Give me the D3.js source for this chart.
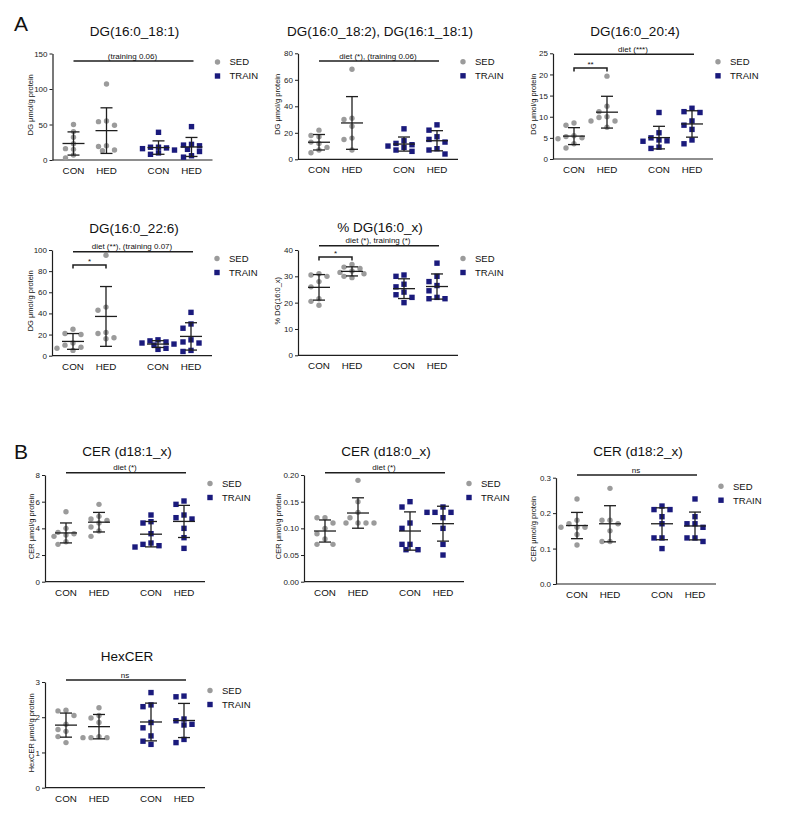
<!DOCTYPE html>
<html>
<head>
<meta charset="utf-8">
<script src="https://cdn.jsdelivr.net/npm/d3@7"></script>
<style>
  html, body { margin: 0; padding: 0; background: #fff; }
  svg { display: block; font-family: "Liberation Sans", Arial, sans-serif; }
</style>
</head>
<body>
<svg id="chart" width="787" height="828"></svg>
<script>
// ---------------- DATA ----------------
const categories = ["CON", "HED", "CON", "HED"];
const seriesNames = ["SED", "TRAIN"];

const titles = ["DG(16:0_18:1)", "DG(16:0_18:2), DG(16:1_18:1)", "DG(16:0_20:4)",
  "DG(16:0_22:6)", "% DG(16:0_x)", "CER (d18:1_x)", "CER (d18:0_x)", "CER (d18:2_x)", "HexCER"];
const yLabels = ["DG μmol/g protein", "DG μmol/g protein", "DG μmol/g protein",
  "DG μmol/g protein", "% DG(16:0_x)", "CER μmol/g protein", "CER μmol/g protein",
  "CER μmol/g protein", "HexCER μmol/g protein"];
const sigTexts = ["(training 0.06)", "diet (*), (training 0.06)", "diet (***)",
  "diet (**), (training 0.07)", "diet (*), training (*)", "diet (*)", "diet (*)", "ns", "ns"];
const bracketTexts = [null, null, "**", "*", "*", null, null, null, null];

// [CON, HED] per series
const dg181_SED   = [[50, 40, 32, 23, 16, 15, 7, 3], [107, 55, 54, 49, 20, 19, 13, 14]];
const dg181_TRAIN = [[39, 18, 18, 17, 16, 14, 10, 8], [47, 22, 21, 20, 15, 12, 6, 4]];
const dg182_SED   = [[22, 18, 17, 13, 12, 9, 7, 5], [68, 31, 30, 25, 16, 15, 7]];
const dg182_TRAIN = [[23, 14, 12, 11, 10, 9, 7, 6], [26, 22, 17, 15, 13, 8, 7, 4]];
const dg204_SED   = [[8.5, 8.0, 5.5, 5.3, 5.0, 4.8, 3.6, 2.6], [19.6, 12.5, 11.2, 10.0, 9.8, 9.0, 9.0, 7.5]];
const dg204_TRAIN = [[11.0, 6.2, 5.0, 4.5, 4.3, 4.2, 2.8, 2.5], [12.0, 11.2, 11.0, 9.0, 8.0, 7.0, 4.5, 3.6]];
const dg226_SED   = [[25, 21, 20, 12, 10, 8, 7, 5], [95, 46, 43, 22, 21, 17, 16]];
const dg226_TRAIN = [[15, 14, 13, 12, 11, 10, 7, 6], [41, 30, 26, 15, 13, 12, 5, 4]];
const pdg_SED     = [[31, 30.5, 30, 28, 26, 21.5, 20.5, 19], [34.5, 33.5, 33, 32, 31.5, 31, 30, 29.5]];
const pdg_TRAIN   = [[30.5, 30, 27, 26, 24, 23, 22, 20], [35, 30, 28, 26.5, 24.5, 22, 21.5, 21.5]];
const cer181_SED  = [[5.25, 4.0, 3.7, 3.6, 3.5, 3.4, 3.0, 2.8], [5.8, 4.9, 4.7, 4.6, 4.4, 4.1, 3.8, 3.4]];
const cer181_TRAIN= [[5.0, 4.5, 4.4, 3.6, 2.9, 2.8, 2.7, 2.6], [6.05, 5.8, 5.0, 4.8, 4.7, 4.0, 3.3, 2.5]];
const cer180_SED  = [[0.12, 0.12, 0.11, 0.10, 0.09, 0.08, 0.07, 0.07], [0.19, 0.15, 0.13, 0.12, 0.11, 0.11, 0.11, 0.11]];
const cer180_TRAIN= [[0.15, 0.14, 0.11, 0.10, 0.07, 0.07, 0.06, 0.06], [0.14, 0.13, 0.13, 0.13, 0.12, 0.10, 0.07, 0.05]];
const cer182_SED  = [[0.24, 0.18, 0.17, 0.16, 0.16, 0.16, 0.14, 0.11], [0.27, 0.18, 0.18, 0.17, 0.15, 0.12, 0.12]];
const cer182_TRAIN= [[0.22, 0.21, 0.21, 0.19, 0.17, 0.13, 0.13, 0.10], [0.24, 0.19, 0.17, 0.17, 0.16, 0.13, 0.13, 0.12]];
const hex_SED     = [[2.2, 2.18, 2.05, 1.8, 1.65, 1.6, 1.45, 1.28], [2.27, 2.05, 1.98, 1.85, 1.45, 1.42, 1.42, 1.42]];
const hex_TRAIN   = [[2.7, 2.35, 2.3, 1.85, 1.7, 1.47, 1.32, 1.23], [2.6, 2.58, 1.95, 1.9, 1.8, 1.78, 1.37, 1.28]];

const ticks1 = [0, 50, 100, 150];
const ticks2 = [0, 20, 40, 60, 80];
const ticks3 = [0, 5, 10, 15, 20, 25];
const ticks4 = [0, 20, 40, 60, 80, 100];
const ticks5 = [0, 10, 20, 30, 40];
const ticks6 = [0, 2, 4, 6, 8];
const ticks7 = [0, 0.05, 0.10, 0.15, 0.20];
const ticks8 = [0, 0.1, 0.2, 0.3];
const ticks9 = [0, 1, 2, 3];

// ---------------- LAYOUT ----------------
const panels = [
  {sed: dg181_SED, train: dg181_TRAIN, ticks: ticks1, fmt: d3.format("d"),   ax: 52.5, top: 53.5, bottom: 160,   titleY: 36,  labOff: 20, sigY: 61,    brY: null},
  {sed: dg182_SED, train: dg182_TRAIN, ticks: ticks2, fmt: d3.format("d"),   ax: 298,  top: 53.3, bottom: 159.3, titleY: 36,  labOff: 18, sigY: 61,    brY: null},
  {sed: dg204_SED, train: dg204_TRAIN, ticks: ticks3, fmt: d3.format("d"),   ax: 553,  top: 53.3, bottom: 159,   titleY: 36,  labOff: 17, sigY: 54.3,  brY: 68},
  {sed: dg226_SED, train: dg226_TRAIN, ticks: ticks4, fmt: d3.format("d"),   ax: 52,   top: 250,  bottom: 355.7, titleY: 233, labOff: 19, sigY: 251.7, brY: 265},
  {sed: pdg_SED,   train: pdg_TRAIN,   ticks: ticks5, fmt: d3.format("d"),   ax: 298,  top: 250,  bottom: 355.3, titleY: 232, labOff: 18, sigY: 245.7, brY: 257},
  {sed: cer181_SED,train: cer181_TRAIN,ticks: ticks6, fmt: d3.format("d"),   ax: 45,   top: 475,  bottom: 581.7, titleY: 456, labOff: 11, sigY: 472.7, brY: null},
  {sed: cer180_SED,train: cer180_TRAIN,ticks: ticks7, fmt: d3.format(".2f"), ax: 304,  top: 475,  bottom: 581.7, titleY: 456, labOff: 23, sigY: 472.7, brY: null},
  {sed: cer182_SED,train: cer182_TRAIN,ticks: ticks8, fmt: d3.format(".1f"), ax: 556,  top: 477.7,bottom: 584,   titleY: 456, labOff: 20, sigY: 475,   brY: null},
  {sed: hex_SED,   train: hex_TRAIN,   ticks: ticks9, fmt: d3.format("d"),   ax: 45,   top: 682,  bottom: 787.7, titleY: 661, labOff: 11, sigY: 680,   brY: null}
];

const catOffsets = [21, 54, 106, 139];
const GREY = "#9b9b9b", NAVY = "#1a1a7c", INK = "#1e1e1e";

const svg = d3.select("#chart");

svg.append("text").attr("x", 14).attr("y", 31).attr("font-size", 21).attr("fill", "#111").text("A");
svg.append("text").attr("x", 14).attr("y", 459).attr("font-size", 21).attr("fill", "#111").text("B");

function swarm(vals, y) {
  const pts = vals.map(v => ({v, py: y(v)})).sort((a, b) => a.py - b.py);
  const placed = [];
  const cands = [0, -8, 8, -4, 4, -12, 12, -16, 16];
  pts.forEach(p => {
    p.dx = 0;
    for (const c of cands) {
      if (placed.every(q => Math.hypot(q.dx - c, q.py - p.py) >= 5.6)) { p.dx = c; break; }
    }
    placed.push(p);
  });
  return pts;
}

panels.forEach((p, i) => {
  const g = svg.append("g");
  const yMax = p.ticks[p.ticks.length - 1];
  const y = d3.scaleLinear().domain([0, yMax]).range([p.bottom, p.top]);
  const cx = catOffsets.map(o => p.ax + o);

  // title
  g.append("text").attr("x", p.ax + 82).attr("y", p.titleY).attr("text-anchor", "middle")
    .attr("font-size", 13.5).attr("fill", "#111").text(titles[i]);

  // y axis
  const yAxis = d3.axisLeft(y).tickValues(p.ticks).tickFormat(p.fmt).tickSize(3).tickSizeOuter(0).tickPadding(2);
  const ya = g.append("g").attr("transform", `translate(${p.ax},0)`).call(yAxis);
  ya.select(".domain").attr("stroke", INK).attr("stroke-width", 1.2);
  ya.selectAll(".tick line").attr("stroke", INK).attr("stroke-width", 1);
  ya.selectAll(".tick text").attr("font-size", 8).attr("fill", "#222")
    .attr("font-family", "'Liberation Sans', Arial, sans-serif");

  // x axis baseline
  g.append("line").attr("x1", p.ax).attr("x2", p.ax + 160).attr("y1", p.bottom).attr("y2", p.bottom)
    .attr("stroke", INK).attr("stroke-width", 1.2);
  categories.forEach((c, k) => {
    g.append("text").attr("x", cx[k]).attr("y", p.bottom + 14).attr("text-anchor", "middle")
      .attr("font-size", 9.8).attr("fill", "#111").text(c);
  });

  // y label
  g.append("text")
    .attr("transform", `translate(${p.ax - p.labOff},${(p.top + p.bottom) / 2 - 2}) rotate(-90)`)
    .attr("text-anchor", "middle").attr("font-size", 7.5).attr("fill", "#111").text(yLabels[i]);

  // data groups
  const groups = [p.sed[0], p.sed[1], p.train[0], p.train[1]];
  groups.forEach((vals, k) => {
    const isSed = k < 2;
    const pts = swarm(vals, y);
    if (isSed) {
      g.selectAll(null).data(pts).enter().append("circle")
        .attr("cx", d => cx[k] + d.dx).attr("cy", d => d.py).attr("r", 2.7).attr("fill", GREY);
    } else {
      g.selectAll(null).data(pts).enter().append("rect")
        .attr("x", d => cx[k] + d.dx - 2.7).attr("y", d => d.py - 2.7)
        .attr("width", 5.4).attr("height", 5.4).attr("fill", NAVY);
    }
    const m = d3.mean(vals), sd = d3.deviation(vals);
    const eg = g.append("g").attr("stroke", INK).attr("stroke-width", 1.3);
    eg.append("line").attr("x1", cx[k]).attr("x2", cx[k]).attr("y1", y(m + sd)).attr("y2", y(m - sd));
    eg.append("line").attr("x1", cx[k] - 11).attr("x2", cx[k] + 11).attr("y1", y(m)).attr("y2", y(m));
    eg.append("line").attr("x1", cx[k] - 6).attr("x2", cx[k] + 6).attr("y1", y(m + sd)).attr("y2", y(m + sd));
    eg.append("line").attr("x1", cx[k] - 6).attr("x2", cx[k] + 6).attr("y1", y(m - sd)).attr("y2", y(m - sd));
  });

  // significance line
  g.append("line").attr("x1", cx[0]).attr("x2", cx[3] + 2).attr("y1", p.sigY).attr("y2", p.sigY)
    .attr("stroke", INK).attr("stroke-width", 1.5);
  g.append("text").attr("x", (cx[0] + cx[3]) / 2).attr("y", p.sigY - 2.5).attr("text-anchor", "middle")
    .attr("font-size", 8).attr("fill", "#111").text(sigTexts[i]);

  if (bracketTexts[i]) {
    g.append("path")
      .attr("d", `M${cx[0]},${p.brY + 3.5}V${p.brY}H${cx[1]}V${p.brY + 3.5}`)
      .attr("fill", "none").attr("stroke", INK).attr("stroke-width", 1.5);
    g.append("text").attr("x", (cx[0] + cx[1]) / 2).attr("y", p.brY - 1.5).attr("text-anchor", "middle")
      .attr("font-size", 8).attr("fill", "#111").text(bracketTexts[i]);
  }

  // legend
  const lx = p.ax + 165, ly = p.top + 8.5;
  g.append("circle").attr("cx", lx).attr("cy", ly).attr("r", 2.7).attr("fill", GREY);
  g.append("rect").attr("x", lx - 2.7).attr("y", ly + 14 - 2.7).attr("width", 5.4).attr("height", 5.4).attr("fill", NAVY);
  g.append("text").attr("x", lx + 12).attr("y", ly + 3.3).attr("font-size", 9.5).attr("fill", "#111").text(seriesNames[0]);
  g.append("text").attr("x", lx + 12).attr("y", ly + 17.3).attr("font-size", 9.5).attr("fill", "#111").text(seriesNames[1]);
});
</script>
</body>
</html>
